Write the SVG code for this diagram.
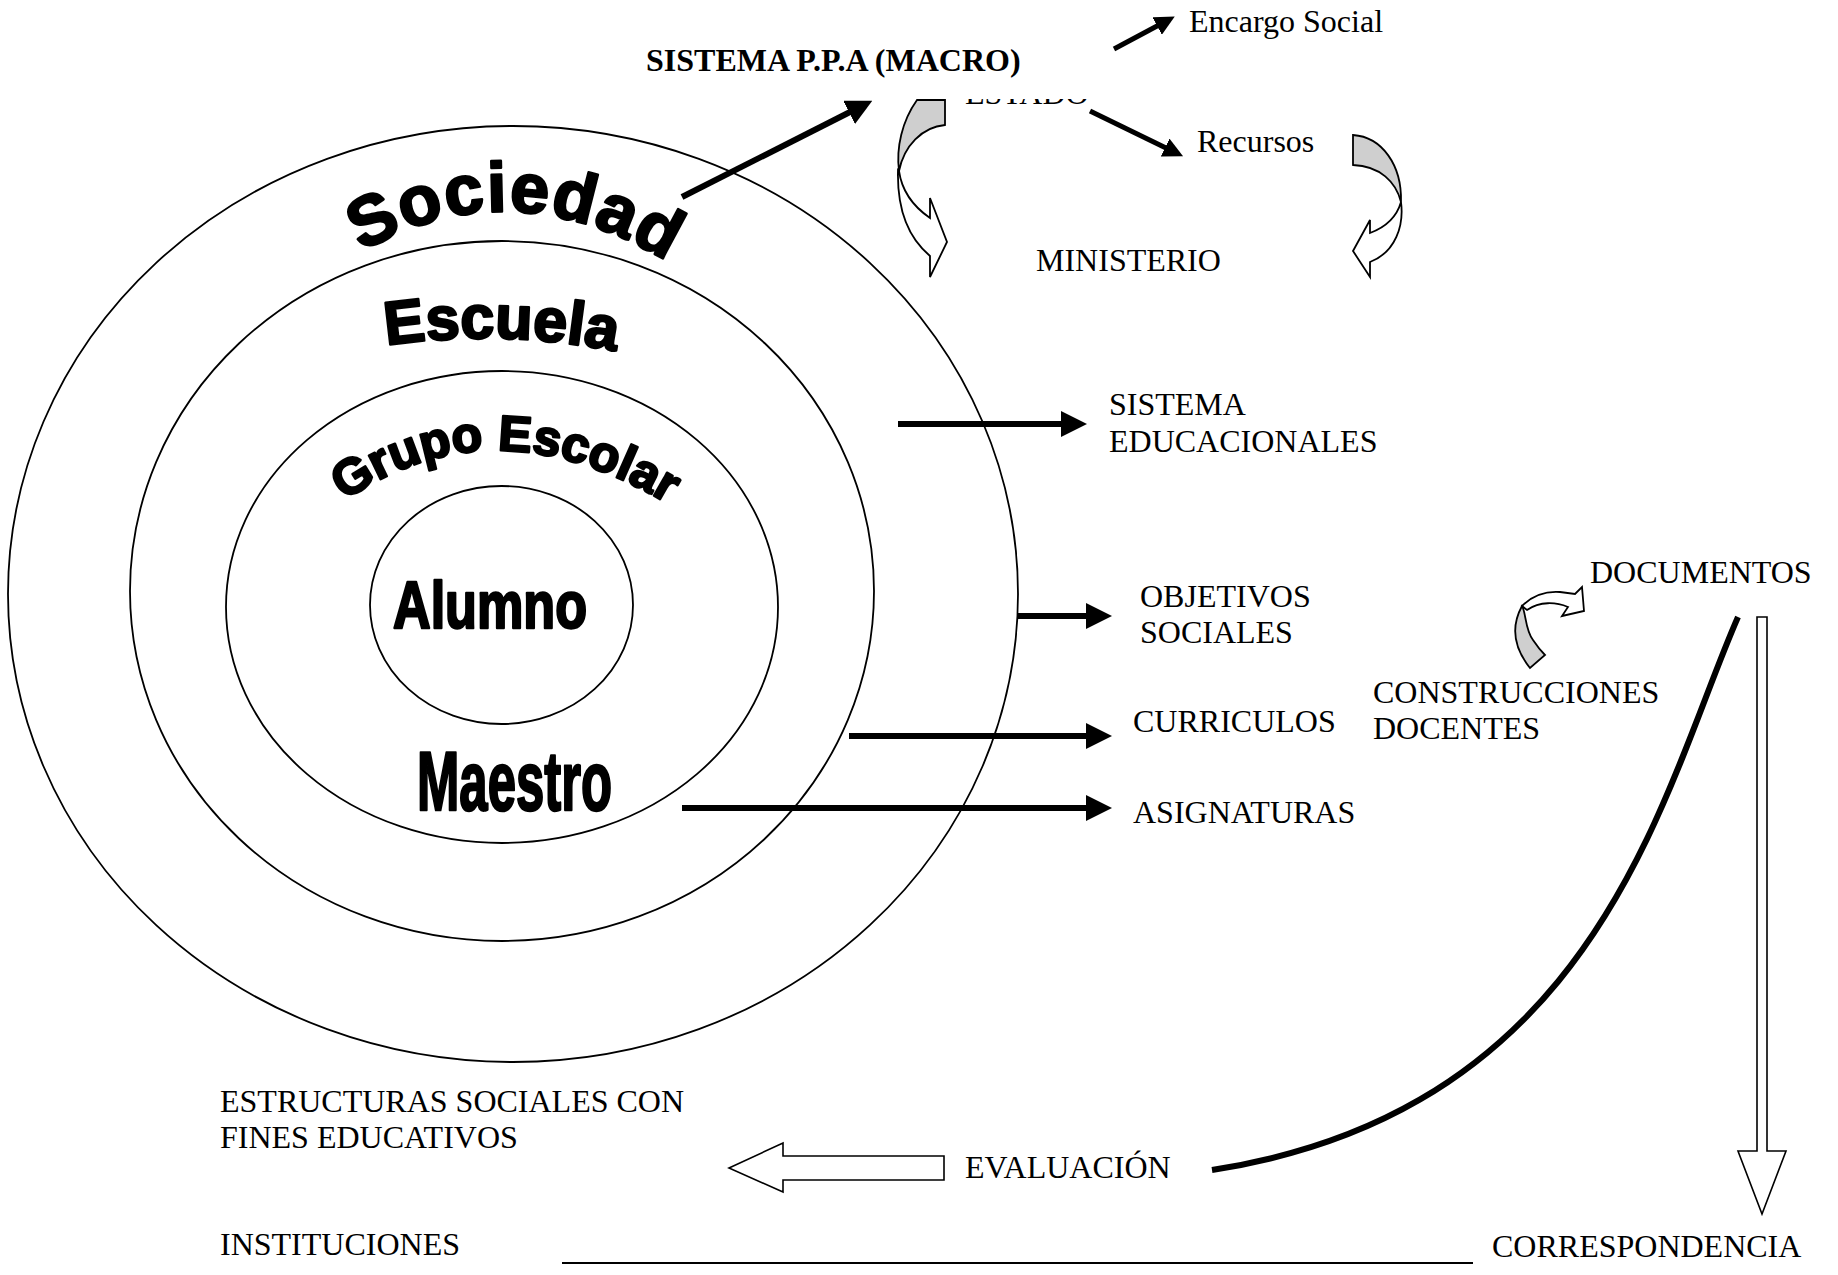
<svg xmlns="http://www.w3.org/2000/svg" width="1838" height="1275" viewBox="0 0 1838 1275">
<style>
.t{font-family:"Liberation Serif","Times New Roman",serif;font-size:32px;fill:#000}
.b{font-weight:bold}
.wa{font-family:"Liberation Sans",Arial,sans-serif;font-weight:bold;fill:#000;stroke:#000;stroke-width:2.5;stroke-linejoin:round}
.ring{fill:none;stroke:#000;stroke-width:1.8}
.thick{fill:none;stroke:#000;stroke-width:6}
.thin{fill:none;stroke:#000;stroke-width:5}
.hollow{fill:#fff;stroke:#000;stroke-width:1.6;stroke-linejoin:miter}
.back{fill:#cfcfcf;stroke:#000;stroke-width:1.8}
.front{fill:#fff;stroke:#000;stroke-width:1.8}
</style>
<defs>
<marker id="ah" markerUnits="userSpaceOnUse" viewBox="0 0 26 26" markerWidth="26" markerHeight="26" refX="1" refY="13" orient="auto"><path d="M0,0 L26,13 L0,26 z" fill="#000"/></marker>
<marker id="ahs" markerUnits="userSpaceOnUse" viewBox="0 0 20 20" markerWidth="20" markerHeight="20" refX="1" refY="10" orient="auto"><path d="M0,0 L20,10 L0,20 z" fill="#000"/></marker>
<clipPath id="cut"><rect x="0" y="99" width="1838" height="1176"/></clipPath>
<path id="p-soc" d="M352,258 Q508,160 678,268"/>
<path id="p-esc" d="M382,346 Q500,328 620,352"/>
<path id="p-gru" d="M335,508 Q490,392 678,510"/>
</defs>
<rect width="1838" height="1275" fill="#fff"/>

<g id="rings">
<ellipse id="ring-sociedad" class="ring" cx="513" cy="594" rx="505" ry="468"/>
<ellipse id="ring-escuela" class="ring" cx="502" cy="591" rx="372" ry="350"/>
<ellipse id="ring-grupo" class="ring" cx="502" cy="607" rx="276" ry="236"/>
<ellipse id="ring-alumno" class="ring" cx="501.5" cy="605" rx="131.5" ry="119"/>
</g>

<g id="wordart">
<text id="sociedad" class="wa" font-size="70" letter-spacing="1.5" stroke-width="3"><textPath href="#p-soc" startOffset="50%" text-anchor="middle">Sociedad</textPath></text>
<text id="escuela" class="wa" font-size="61"><textPath href="#p-esc" startOffset="50%" text-anchor="middle">Escuela</textPath></text>
<text id="grupo" class="wa" font-size="50" stroke-width="2"><textPath href="#p-gru" startOffset="50%" text-anchor="middle">Grupo Escolar</textPath></text>
<text id="alumno" class="wa" x="393" y="628" font-size="66" textLength="194" lengthAdjust="spacingAndGlyphs" stroke-width="1.5">Alumno</text>
<text id="maestro" class="wa" x="417" y="810" font-size="84" textLength="195" lengthAdjust="spacingAndGlyphs" stroke-width="1">Maestro</text>
</g>

<g id="connectors">
<line x1="682" y1="197" x2="850" y2="112" class="thick" marker-end="url(#ah)"/>
<line x1="1114" y1="49" x2="1158" y2="25.5" class="thin" marker-end="url(#ahs)"/>
<line x1="1090" y1="111" x2="1166" y2="148" class="thin" marker-end="url(#ahs)"/>
<line x1="898" y1="424" x2="1062" y2="424" class="thick" marker-end="url(#ah)"/>
<line x1="1018" y1="616" x2="1087" y2="616" class="thick" marker-end="url(#ah)"/>
<line x1="849" y1="736" x2="1087" y2="736" class="thick" marker-end="url(#ah)"/>
<line x1="682" y1="808" x2="1087" y2="808" class="thick" marker-end="url(#ah)"/>
<path d="M1738,617 C1662,790 1600,1110 1212,1170" class="thick"/>
<line x1="562" y1="1263" x2="1473" y2="1263" stroke="#000" stroke-width="2"/>
<path id="arrow-evaluacion" class="hollow" d="M729,1168 L783,1143 L783,1156 L944,1156 L944,1180 L783,1180 L783,1192 Z"/>
<path id="arrow-correspondencia" class="hollow" d="M1757,617 L1767,617 L1767,1151 L1786,1151 L1762,1214 L1738,1151 L1757,1151 Z"/>
<g id="curved-estado">
<path class="back" d="M917,100 L945,100 L945,125 C922,127 904,146 899,171 C896,148 902,121 917,100 Z"/>
<path class="front" d="M898,170 C897,205 906,236 930,256 L930,277 L947,242 L930,198 L930,218 C914,207 902,192 899,171 Z"/>
</g>
<g id="curved-recursos">
<path class="back" d="M1353,135 C1382,137 1402,165 1401,202 C1396,182 1380,166 1353,165 Z"/>
<path class="front" d="M1401,202 C1404,225 1396,252 1370,262 L1370,277 L1353,251 L1370,220 L1370,233 C1386,227 1397,216 1401,202 Z"/>
</g>
<g id="curved-documentos">
<path class="back" d="M1530,668 C1514,648 1510,628 1522,606 C1526,612 1525,630 1533,640 C1537,646 1541,651 1545,655 Z"/>
<path class="front" d="M1522,606 C1532,596 1546,591 1560,592 L1575,594 L1582,587 L1584,611 L1562,616 L1568,607 C1556,602 1540,601 1527,610 Z"/>
</g>
</g>

<g id="labels">
<text id="estado" class="t" x="965" y="104" clip-path="url(#cut)">ESTADO</text>
<text id="sistema-ppa" class="t b" x="646" y="71">SISTEMA P.P.A (MACRO)</text>
<text id="encargo" class="t" x="1189" y="32">Encargo Social</text>
<text id="recursos" class="t" x="1197" y="152">Recursos</text>
<text id="ministerio" class="t" x="1036" y="271">MINISTERIO</text>
<text id="sistema-ed" class="t" x="1109" y="415"><tspan x="1109">SISTEMA</tspan><tspan x="1109" y="452">EDUCACIONALES</tspan></text>
<text id="objetivos" class="t" x="1140" y="607"><tspan x="1140">OBJETIVOS</tspan><tspan x="1140" y="643">SOCIALES</tspan></text>
<text id="curriculos" class="t" x="1133" y="732">CURRICULOS</text>
<text id="asignaturas" class="t" x="1133" y="823">ASIGNATURAS</text>
<text id="construcciones" class="t" x="1373" y="703"><tspan x="1373">CONSTRUCCIONES</tspan><tspan x="1373" y="739">DOCENTES</tspan></text>
<text id="documentos" class="t" x="1590" y="583">DOCUMENTOS</text>
<text id="estructuras" class="t" x="220" y="1112"><tspan x="220">ESTRUCTURAS SOCIALES CON</tspan><tspan x="220" y="1148">FINES EDUCATIVOS</tspan></text>
<text id="evaluacion" class="t" x="965" y="1178">EVALUACIÓN</text>
<text id="instituciones" class="t" x="220" y="1255">INSTITUCIONES</text>
<text id="correspondencia" class="t" x="1492" y="1257">CORRESPONDENCIA</text>
</g>
</svg>
